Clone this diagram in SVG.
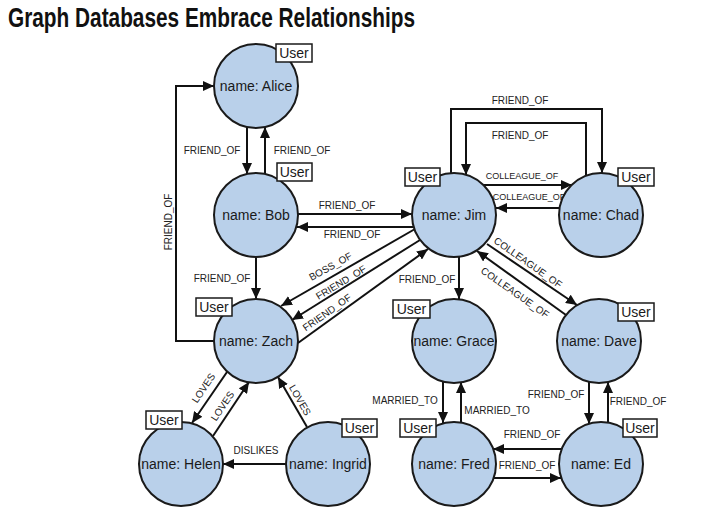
<svg xmlns="http://www.w3.org/2000/svg" width="709" height="507" viewBox="0 0 709 507">
<defs>
<marker id="ah" markerUnits="userSpaceOnUse" markerWidth="12" markerHeight="10" refX="11" refY="5" orient="auto">
<path d="M0,0 L11,5 L0,10 z" fill="#111"/>
</marker>
<style>
.n{fill:#b9d0ea;stroke:#1a1a1a;stroke-width:2}
.nt{font-family:"Liberation Sans",Arial,sans-serif;font-size:14px;fill:#1a1a1a;text-anchor:middle}
.ub{fill:#fff;stroke:#1a1a1a;stroke-width:1.5}
.ut{font-family:"Liberation Sans",Arial,sans-serif;font-size:14px;fill:#1a1a1a;text-anchor:middle}
.e{fill:none;stroke:#111;stroke-width:2;marker-end:url(#ah)}
.l{font-family:"Liberation Sans",Arial,sans-serif;font-size:10px;fill:#222;text-anchor:middle}
.s{font-size:9px}
</style>
</defs>
<rect width="709" height="507" fill="#fff"/>
<text x="8" y="27" font-family="Liberation Sans,Arial,sans-serif" font-weight="bold" font-size="28" fill="#111" textLength="407" lengthAdjust="spacingAndGlyphs">Graph Databases Embrace Relationships</text>

<g id="connectors">
<line class="e" x1="247" y1="127" x2="247" y2="174"/>
<line class="e" x1="265" y1="174" x2="265" y2="127"/>
<text class="l" x="212" y="154">FRIEND_OF</text>
<text class="l" x="302" y="154">FRIEND_OF</text>

<line class="e" x1="298" y1="214" x2="412" y2="214"/>
<line class="e" x1="414" y1="227" x2="297" y2="227"/>
<text class="l" x="347" y="209">FRIEND_OF</text>
<text class="l" x="352" y="238">FRIEND_OF</text>

<path class="e" d="M451,173 L451,109 L602,109 L602,173"/>
<path class="e" d="M586,176 L586,123 L466,123 L466,175"/>
<text class="l" x="520" y="104">FRIEND_OF</text>
<text class="l" x="520" y="139">FRIEND_OF</text>

<line class="e" x1="483" y1="185" x2="572" y2="185"/>
<line class="e" x1="560" y1="208" x2="496" y2="208"/>
<text class="l s" x="522" y="179">COLLEAGUE_OF</text>
<text class="l s" x="529" y="200">COLLEAGUE_OF</text>

<line class="e" x1="256" y1="257" x2="256" y2="299"/>
<text class="l" x="222" y="282">FRIEND_OF</text>

<path class="e" d="M214,341 L176,341 L176,86 L214,86"/>
<text class="l" transform="translate(172,222) rotate(-90)" x="0" y="0">FRIEND_OF</text>

<line class="e" x1="415" y1="229" x2="281" y2="306"/>
<line class="e" x1="420" y1="240" x2="292" y2="320"/>
<line class="e" x1="298" y1="343" x2="428" y2="249"/>
<text class="l" transform="translate(330.5,266.5) rotate(-29)" x="0" y="3.5">BOSS_OF</text>
<text class="l" transform="translate(341,282.5) rotate(-31)" x="0" y="3.5">FRIEND_OF</text>
<text class="l" transform="translate(327,312.5) rotate(-35)" x="0" y="3.5">FRIEND_OF</text>

<line class="e" x1="459" y1="257" x2="459" y2="299"/>
<text class="l" x="427" y="283">FRIEND_OF</text>

<line class="e" x1="487" y1="244" x2="577" y2="305"/>
<line class="e" x1="566" y1="315" x2="477" y2="251"/>
<text class="l" transform="translate(528,262.5) rotate(35)" x="0" y="3.5">COLLEAGUE_OF</text>
<text class="l" transform="translate(515,292.5) rotate(35)" x="0" y="3.5">COLLEAGUE_OF</text>

<line class="e" x1="443" y1="382" x2="443" y2="423"/>
<line class="e" x1="461" y1="423" x2="461" y2="382"/>
<text class="l" x="405" y="404">MARRIED_TO</text>
<text class="l" x="497" y="414">MARRIED_TO</text>

<line class="e" x1="589" y1="382" x2="589" y2="424"/>
<line class="e" x1="608" y1="423" x2="608" y2="382"/>
<text class="l" x="556" y="398">FRIEND_OF</text>
<text class="l" x="638" y="405">FRIEND_OF</text>

<line class="e" x1="562" y1="449" x2="493" y2="449"/>
<line class="e" x1="494" y1="478" x2="561" y2="478"/>
<text class="l" x="532" y="438">FRIEND_OF</text>
<text class="l" x="527" y="469">FRIEND_OF</text>

<line class="e" x1="286" y1="464" x2="223" y2="464"/>
<text class="l" x="256" y="454">DISLIKES</text>

<line class="e" x1="227" y1="372" x2="192" y2="423"/>
<line class="e" x1="213" y1="436" x2="249" y2="382"/>
<line class="e" x1="307" y1="427" x2="278" y2="377"/>
<text class="l" transform="translate(203.5,388) rotate(-56)" x="0" y="3.5">LOVES</text>
<text class="l" transform="translate(222.5,406) rotate(-56)" x="0" y="3.5">LOVES</text>
<text class="l" transform="translate(300,400) rotate(60)" x="0" y="3.5">LOVES</text>
</g>

<g id="alice"><circle class="n" cx="256" cy="86" r="42"/><text class="nt" x="256" y="91">name: Alice</text><rect class="ub" x="276" y="44" width="36" height="18"/><text class="ut" x="294" y="58">User</text></g>
<g id="bob"><circle class="n" cx="256" cy="215" r="42"/><text class="nt" x="256" y="220">name: Bob</text><rect class="ub" x="277" y="163" width="35" height="18"/><text class="ut" x="294.5" y="177">User</text></g>
<g id="jim"><circle class="n" cx="454" cy="215" r="42"/><text class="nt" x="454" y="220">name: Jim</text><rect class="ub" x="405" y="168" width="35" height="18"/><text class="ut" x="422.5" y="182">User</text></g>
<g id="chad"><circle class="n" cx="601" cy="215" r="42"/><text class="nt" x="601" y="220">name: Chad</text><rect class="ub" x="618" y="168" width="36" height="18"/><text class="ut" x="636" y="182">User</text></g>
<g id="zach"><circle class="n" cx="256" cy="341" r="42"/><text class="nt" x="256" y="346">name: Zach</text><rect class="ub" x="196" y="298" width="36" height="18"/><text class="ut" x="214" y="312">User</text></g>
<g id="grace"><circle class="n" cx="454" cy="341" r="42"/><text class="nt" x="454" y="346">name: Grace</text><rect class="ub" x="393" y="300" width="37" height="18"/><text class="ut" x="411.5" y="314">User</text></g>
<g id="dave"><circle class="n" cx="599" cy="341" r="42"/><text class="nt" x="599" y="346">name: Dave</text><rect class="ub" x="618" y="303" width="36" height="18"/><text class="ut" x="636" y="317">User</text></g>
<g id="helen"><circle class="n" cx="181" cy="464" r="42"/><text class="nt" x="181" y="469">name: Helen</text><rect class="ub" x="146" y="411" width="36" height="18"/><text class="ut" x="164" y="425">User</text></g>
<g id="ingrid"><circle class="n" cx="328" cy="464" r="42"/><text class="nt" x="328" y="469">name: Ingrid</text><rect class="ub" x="342" y="419" width="35" height="18"/><text class="ut" x="359.5" y="433">User</text></g>
<g id="fred"><circle class="n" cx="454" cy="464" r="42"/><text class="nt" x="454" y="469">name: Fred</text><rect class="ub" x="400" y="419" width="36" height="18"/><text class="ut" x="418" y="433">User</text></g>
<g id="ed"><circle class="n" cx="601" cy="464" r="42"/><text class="nt" x="601" y="469">name: Ed</text><rect class="ub" x="623" y="419" width="34" height="18"/><text class="ut" x="640" y="433">User</text></g>
</svg>
